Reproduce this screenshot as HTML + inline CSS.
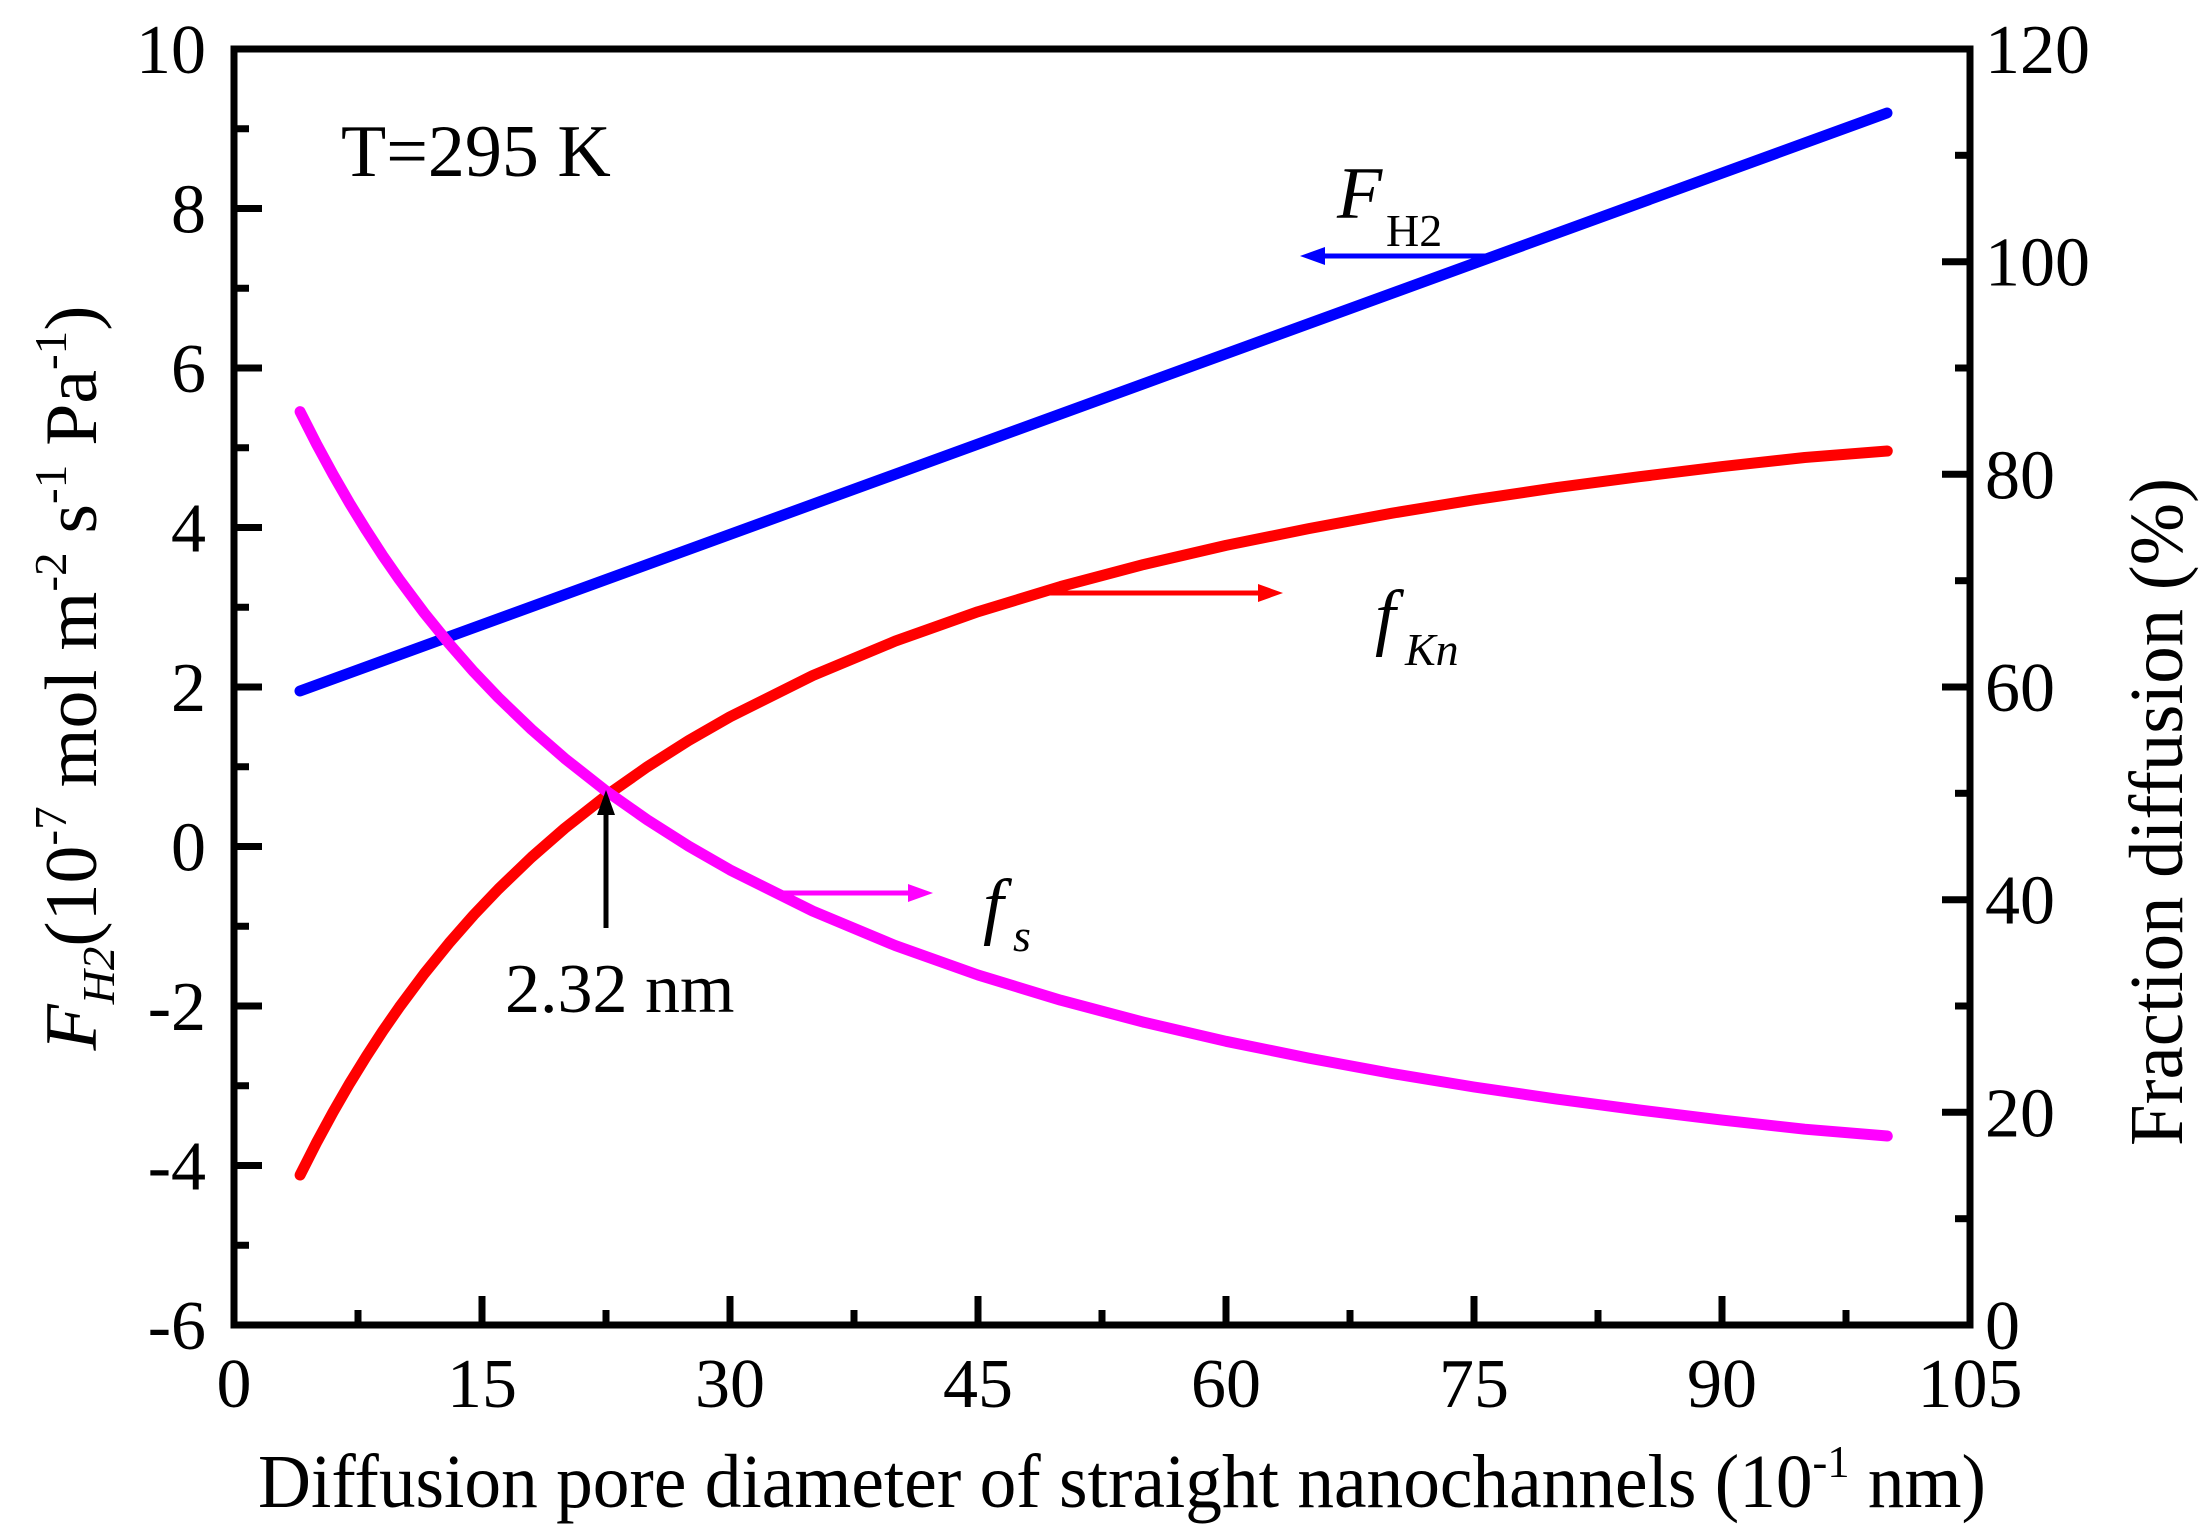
<!DOCTYPE html>
<html><head><meta charset="utf-8"><style>
html,body{margin:0;padding:0;background:#fff}
svg{display:block}
svg text{font-family:"Liberation Serif","Times New Roman",serif;fill:#000}
</style></head><body>
<svg width="2208" height="1535" viewBox="0 0 2208 1535" xmlns="http://www.w3.org/2000/svg" font-family="Liberation Serif, serif">
<rect width="2208" height="1535" fill="#fff"/>
<g fill="none" stroke-width="11" stroke-linecap="round" stroke-linejoin="round">
<polyline stroke="#0000ff" points="300,691 1887,113"/>
<polyline stroke="#ff0000" points="300.1,1175 316.7,1142.3 333.2,1111.9 349.7,1083.3 366.3,1056.4 382.8,1031 399.3,1007.2 424.1,973.9 448.9,943.3 473.7,915 498.5,889 531.6,857.2 564.7,828.3 606,795.8 647.3,766.8 688.7,740.5 730,716.8 812.7,675.6 895.3,641.1 978,611.7 1060.7,586.5 1143.3,564.6 1226,545.4 1308.7,528.6 1391.3,513.3 1474,499.8 1556.6,487.6 1639.3,476.7 1722,466.6 1804.7,457.5 1887.3,451"/>
<polyline stroke="#ff00ff" points="300.1,411.7 316.7,444.4 333.2,474.8 349.7,503.4 366.3,530.3 382.8,555.7 399.3,579.5 424.1,612.8 448.9,643.4 473.7,671.7 498.5,697.7 531.6,729.5 564.7,758.4 606,790.9 647.3,819.9 688.7,846.2 730,869.9 812.7,911.1 895.3,945.6 978,975 1060.7,1000.2 1143.3,1022.1 1226,1041.3 1308.7,1058.1 1391.3,1073.4 1474,1087 1556.6,1099.1 1639.3,1110 1722,1120.1 1804.7,1129.2 1887.3,1136"/>
</g>
<rect x="234" y="49" width="1736" height="1276" stroke="#000" stroke-width="7" fill="none"/>
<g stroke="#000" stroke-width="7">
<line x1="234" y1="1325" x2="234" y2="1296"/>
<line x1="358" y1="1325" x2="358" y2="1310"/>
<line x1="482" y1="1325" x2="482" y2="1296"/>
<line x1="606" y1="1325" x2="606" y2="1310"/>
<line x1="730" y1="1325" x2="730" y2="1296"/>
<line x1="854" y1="1325" x2="854" y2="1310"/>
<line x1="978" y1="1325" x2="978" y2="1296"/>
<line x1="1102" y1="1325" x2="1102" y2="1310"/>
<line x1="1226" y1="1325" x2="1226" y2="1296"/>
<line x1="1350" y1="1325" x2="1350" y2="1310"/>
<line x1="1474" y1="1325" x2="1474" y2="1296"/>
<line x1="1598" y1="1325" x2="1598" y2="1310"/>
<line x1="1722" y1="1325" x2="1722" y2="1296"/>
<line x1="1846" y1="1325" x2="1846" y2="1310"/>
<line x1="234" y1="208.5" x2="262" y2="208.5"/>
<line x1="234" y1="368" x2="262" y2="368"/>
<line x1="234" y1="527.5" x2="262" y2="527.5"/>
<line x1="234" y1="687" x2="262" y2="687"/>
<line x1="234" y1="846.5" x2="262" y2="846.5"/>
<line x1="234" y1="1006" x2="262" y2="1006"/>
<line x1="234" y1="1165.5" x2="262" y2="1165.5"/>
<line x1="234" y1="128.75" x2="249" y2="128.75"/>
<line x1="234" y1="288.25" x2="249" y2="288.25"/>
<line x1="234" y1="447.75" x2="249" y2="447.75"/>
<line x1="234" y1="607.25" x2="249" y2="607.25"/>
<line x1="234" y1="766.75" x2="249" y2="766.75"/>
<line x1="234" y1="926.25" x2="249" y2="926.25"/>
<line x1="234" y1="1085.75" x2="249" y2="1085.75"/>
<line x1="234" y1="1245.25" x2="249" y2="1245.25"/>
<line x1="1970" y1="261.7" x2="1942" y2="261.7"/>
<line x1="1970" y1="474.3" x2="1942" y2="474.3"/>
<line x1="1970" y1="687" x2="1942" y2="687"/>
<line x1="1970" y1="899.7" x2="1942" y2="899.7"/>
<line x1="1970" y1="1112.3" x2="1942" y2="1112.3"/>
<line x1="1970" y1="155.3" x2="1955" y2="155.3"/>
<line x1="1970" y1="368" x2="1955" y2="368"/>
<line x1="1970" y1="580.7" x2="1955" y2="580.7"/>
<line x1="1970" y1="793.3" x2="1955" y2="793.3"/>
<line x1="1970" y1="1006" x2="1955" y2="1006"/>
<line x1="1970" y1="1218.7" x2="1955" y2="1218.7"/>
</g>
<g font-size="70" text-anchor="middle">
<text x="234" y="1407">0</text>
<text x="482" y="1407">15</text>
<text x="730" y="1407">30</text>
<text x="978" y="1407">45</text>
<text x="1226" y="1407">60</text>
<text x="1474" y="1407">75</text>
<text x="1722" y="1407">90</text>
<text x="1970" y="1407">105</text>
</g>
<g font-size="70" text-anchor="end">
<text x="206" y="73">10</text>
<text x="206" y="232.5">8</text>
<text x="206" y="392">6</text>
<text x="206" y="551.5">4</text>
<text x="206" y="711">2</text>
<text x="206" y="870.5">0</text>
<text x="206" y="1030">-2</text>
<text x="206" y="1189.5">-4</text>
<text x="206" y="1349">-6</text>
</g>
<g font-size="70" text-anchor="start">
<text x="1985" y="73">120</text>
<text x="1985" y="285.7">100</text>
<text x="1985" y="498.3">80</text>
<text x="1985" y="711">60</text>
<text x="1985" y="923.7">40</text>
<text x="1985" y="1136.3">20</text>
<text x="1985" y="1349">0</text>
</g>
<text x="1122" y="1507" font-size="76" text-anchor="middle" textLength="1728" lengthAdjust="spacingAndGlyphs">Diffusion pore diameter of straight nanochannels (10<tspan font-size="46" dy="-30">-1</tspan><tspan dy="30"> nm)</tspan></text>
<text transform="translate(2182,812) rotate(-90)" font-size="76" text-anchor="middle" textLength="668" lengthAdjust="spacingAndGlyphs">Fraction diffusion (%)</text>
<text transform="translate(96,678) rotate(-90)" font-size="74" text-anchor="middle" textLength="745" lengthAdjust="spacingAndGlyphs"><tspan font-style="italic">F</tspan><tspan font-style="italic" font-size="46" dy="18">H2</tspan><tspan dy="-18">(10</tspan><tspan font-size="46" dy="-30">-7</tspan><tspan dy="30"> mol m</tspan><tspan font-size="46" dy="-30">-2</tspan><tspan dy="30"> s</tspan><tspan font-size="46" dy="-30">-1</tspan><tspan dy="30"> Pa</tspan><tspan font-size="46" dy="-30">-1</tspan><tspan dy="30">)</tspan></text>
<text x="341" y="176" font-size="74">T=295 K</text>
<text x="1337" y="218" font-size="74" font-style="italic">F</text>
<text x="1386" y="246" font-size="46">H2</text>
<text x="1375" y="641" font-size="74" font-style="italic">f</text>
<text x="1405" y="665" font-size="46" font-style="italic">Kn</text>
<text x="983" y="930" font-size="74" font-style="italic">f</text>
<text x="1013" y="951" font-size="46" font-style="italic">s</text>
<text x="505" y="1012" font-size="70">2.32 nm</text>
<g stroke-width="5">
<line x1="1502" y1="256" x2="1320" y2="256" stroke="#0000ff"/>
<line x1="1050" y1="593" x2="1263" y2="593" stroke="#ff0000"/>
<line x1="783" y1="893" x2="913" y2="893" stroke="#ff00ff"/>
<line x1="606" y1="928" x2="606" y2="810" stroke="#000"/>
</g>
<polygon points="1300,256 1325,247 1325,265" fill="#0000ff"/>
<polygon points="1283,593 1258,584 1258,602" fill="#ff0000"/>
<polygon points="933,893 908,884 908,902" fill="#ff00ff"/>
<polygon points="606,790 597,815 615,815" fill="#000"/>
</svg>
</body></html>
